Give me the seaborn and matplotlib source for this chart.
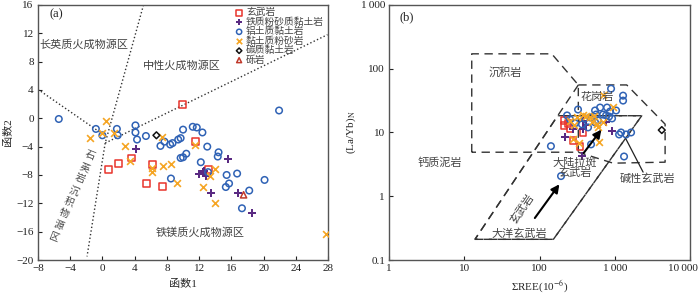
import numpy as np
import pandas as pd
import matplotlib
matplotlib.use("Agg")
import matplotlib.pyplot as plt
import matplotlib.transforms as mtransforms
import seaborn as sns

sns.set_style("ticks")
plt.rcParams["font.family"] = ["Liberation Serif", "Noto Sans CJK SC"]
plt.rcParams["mathtext.fontset"] = "stix"
plt.rcParams["axes.unicode_minus"] = True

# ---- panel (a): discriminant function diagram ----
basalt_a_x = [9.9, 11.5, 0.8, 2.0, 3.6, 6.2, 5.5, 7.5, 13.2]
basalt_a_y = [1.9, -3.3, -7.2, -6.4, -5.6, -6.5, -9.2, -9.6, -7.2]
fe_a_x = [4.2, 12.0, 12.6, 12.9, 12.5, 13.5, 15.6, 16.8, 18.5]
fe_a_y = [-4.3, -7.8, -7.4, -8.1, -7.6, -10.6, -5.7, -10.6, -13.4]
al_a_x = [-5.4, -0.8, 0.0, 1.8, 1.9, 4.1, 4.1, 4.3, 5.4, 7.7, 7.2, 8.4, 8.7, 9.4,
          9.7, 10.0, 11.2, 11.7, 12.4, 13.0, 21.9, 9.7, 10.0, 10.4, 12.2, 8.5,
          14.4, 14.3, 15.4, 15.7, 15.3, 16.7, 18.2, 17.3, 20.1, 13.1]
al_a_y = [-0.1, -1.5, -2.4, -1.5, -2.4, -1.0, -2.0, -3.0, -2.5, -3.3, -3.9, -3.7,
          -3.5, -3.0, -2.8, -1.6, -1.2, -1.3, -2.0, -4.0, 1.1, -5.6, -5.5, -5.0,
          -6.2, -8.5, -4.8, -5.4, -8.0, -9.2, -9.7, -7.8, -10.2, -12.7, -8.7, -7.6]
silt_a_x = [0.5, -0.1, -1.5, 1.5, 2.8, 7.4, 11.5, 3.45, 6.1, 6.1, 7.5, 8.5, 9.2,
            13.3, 12.5, 14.0, 14.0, 27.7]
silt_a_y = [-0.4, -2.1, -2.8, -2.1, -3.9, -2.7, -3.8, -6.0, -7.0, -7.6, -6.7,
            -6.4, -9.2, -8.2, -9.75, -7.1, -11.9, -16.4]
carb_a_x = [6.7]
carb_a_y = [-2.4]
congl_a_x = [17.5]
congl_a_y = [-10.8]

# field boundaries (a)
line_felsic_x = [-8, 0.5]
line_felsic_y = [4.1, -2.6]
line_steep_x = [5.1, 0.35]
line_steep_y = [16, -3.5]
line_right_x = [0.35, 27.9]
line_right_y = [-3.5, 11.8]
line_bottom_x = [0.35, -1.9]
line_bottom_y = [-3.5, -19.5]

# ---- panel (b): (La/Yb)N vs REE ----
basalt_b_x = [210, 210, 238, 377, 277, 344, 253]
basalt_b_y = [15.4, 12.9, 13.9, 10.0, 7.5, 6.1, 11.6]
fe_b_x = [277, 377, 413, 377, 217, 762, 915, 365]
fe_b_y = [11.2, 14.9, 12.9, 11.2, 8.4, 14.4, 10.4, 4.2]
al_b_x = [888, 1282, 1282, 323, 231, 544, 634, 785, 861, 1035, 400, 467, 561, 695,
          762, 835, 915, 253, 596, 544, 1205, 1406, 1638, 1135, 141, 481, 192,
          1321, 365, 439, 295]
al_b_y = [48.6, 37.8, 31.6, 22.9, 18.5, 22.1, 24.6, 24.6, 21.3, 22.1, 16.6, 17.2,
          19.1, 19.1, 18.5, 17.8, 16.6, 16.0, 15.4, 14.4, 10.0, 9.3, 10.0, 9.3,
          6.1, 6.5, 2.07, 4.2, 13.4, 12.0, 13.9]
silt_b_x = [695, 944, 253, 313, 377, 467, 578, 695, 615, 286, 277, 496, 596, 333,
            413, 527]
silt_b_y = [39.2, 25.5, 15.4, 17.2, 18.5, 17.2, 13.4, 14.4, 7.0, 12.9, 7.8, 14.4,
            12.0, 6.8, 17.8, 17.8]
carb_b_x = [4190]
carb_b_y = [10.9]

sed_x = [12.5, 12.5, 144.5, 326, 326, 12.5]
sed_y = [4.9, 171, 171, 55.6, 4.9, 4.9]
granite_x = [326, 1435, 4640, 4640, 944, 326]
granite_y = [55.6, 55.6, 13.5, 3.42, 3.3, 4.9]
band_x = [326, 13.8, 152, 2270, 173.5]
band_y = [55.6, 0.211, 0.211, 18.3, 18.3]
alk_ptr_x = [1362, 2366]
alk_ptr_y = [8.4, 2.39]

groups = ["玄武岩", "铁质粉砂质黏土岩", "铝土质黏土岩", "黏土质粉砂岩", "碳质黏土岩", "砾岩"]
colors = ["#e8342c", "#5a2a82", "#2f62b5", "#f5a524", "#111111", "#c0392b"]
markers = ["s", "P", "o", "x", "D", "^"]
filled = [False, True, False, True, False, False]
sizes = [24, 30, 22, 24, 12, 20]

df_a = pd.concat([
    pd.DataFrame({"x": xs, "y": ys, "g": g}) for g, xs, ys in zip(
        groups,
        [basalt_a_x, fe_a_x, al_a_x, silt_a_x, carb_a_x, congl_a_x],
        [basalt_a_y, fe_a_y, al_a_y, silt_a_y, carb_a_y, congl_a_y])
])
df_b = pd.concat([
    pd.DataFrame({"x": xs, "y": ys, "g": g}) for g, xs, ys in zip(
        groups[:5],
        [basalt_b_x, fe_b_x, al_b_x, silt_b_x, carb_b_x],
        [basalt_b_y, fe_b_y, al_b_y, silt_b_y, carb_b_y])
])


def draw_points(ax, df):
    for g, c, m, f, s in zip(groups, colors, markers, filled, sizes):
        sub = df[df["g"] == g]
        if sub.empty:
            continue
        if f:
            sns.scatterplot(data=sub, x="x", y="y", ax=ax, marker=m, s=s,
                            color=c, linewidth=1.2 if m == "x" else 0,
                            label=g, zorder=3)
        else:
            sns.scatterplot(data=sub, x="x", y="y", ax=ax, marker=m, s=s,
                            facecolor="none", edgecolor=c, linewidth=1.1,
                            label=g, zorder=3)


fig = plt.figure(figsize=(7, 2.98), dpi=100)
ax1 = fig.add_axes([0.054, 0.1275, 0.415, 0.856])
ax2 = fig.add_axes([0.556, 0.1275, 0.430, 0.856])

txt = "#444444"

# panel a
for lx, ly in [(line_felsic_x, line_felsic_y), (line_steep_x, line_steep_y),
               (line_right_x, line_right_y), (line_bottom_x, line_bottom_y)]:
    ax1.plot(lx, ly, ls=":", color="#333333", lw=1.0, zorder=1)
draw_points(ax1, df_a)
ax1.set_xlim(-8, 28)
ax1.set_ylim(-20, 16)
ax1.set_xticks(range(-8, 29, 4))
ax1.set_yticks(range(-20, 17, 4))
ax1.set_xlabel("函数1", fontsize=8, labelpad=4)
ax1.set_ylabel("函数2", fontsize=8, labelpad=2)
ax1.text(-6.6, 14.3, "(a)", fontsize=9, color="#222222")
ax1.text(-2.3, 10.35, "长英质火成物源区", fontsize=8, color=txt, ha="center", va="center")
ax1.text(9.9, 7.4, "中性火成物源区", fontsize=8, color=txt, ha="center", va="center")
ax1.text(12.1, -16.1, "铁镁质火成物源区", fontsize=8, color=txt, ha="center", va="center")
# slanted column of upright characters
quartz_label = "石英岩沉积物源区"
qx = np.linspace(-1.6, -6.0, len(quartz_label))
qy = np.linspace(-5.3, -16.8, len(quartz_label))
for ch, cx, cy in zip(quartz_label, qx, qy):
    ax1.text(cx, cy, ch, fontsize=7.2, color=txt, ha="center", va="center", rotation=-22)
leg = ax1.legend(loc="upper right", bbox_to_anchor=(1.005, 1.01), frameon=False,
                 fontsize=7, handletextpad=0.1, labelspacing=0.0,
                 borderpad=0.1, markerscale=0.8, handlelength=1.2)
for t in leg.get_texts():
    t.set_color(txt)

# panel b
for px, py in [(sed_x, sed_y), (granite_x, granite_y), (band_x, band_y)]:
    ax2.plot(px, py, ls=(0, (6, 4)), color="#333333", lw=1.0, zorder=1)
ax2.plot(band_x[1:4] + [band_x[4], band_x[1]], band_y[1:4] + [band_y[4], band_y[1]],
         ls=(0, (6, 4)), color="#333333", lw=1.0, zorder=1)
ax2.plot(alk_ptr_x, alk_ptr_y, color="#222222", lw=0.9, zorder=2)
draw_points(ax2, df_b)
ax2.annotate("", xy=(192, 1.67), xytext=(82, 0.42),
             arrowprops=dict(arrowstyle="-|>", color="black", lw=1.5,
                             mutation_scale=12), zorder=4)
ax2.annotate("", xy=(695, 12.0), xytext=(365, 4.4),
             arrowprops=dict(arrowstyle="-|>", color="black", lw=1.5,
                             mutation_scale=12), zorder=4)
ax2.set_xscale("log")
ax2.set_yscale("log")
ax2.set_xlim(1, 10000)
ax2.set_ylim(0.1, 1000)
ax2.set_xticks([1, 10, 100, 1000, 10000], ["1", "10", "100", "1\u2009000", "10\u2009000"])
ax2.set_yticks([0.1, 1, 10, 100, 1000], ["0.1", "1", "10", "100", "1\u2009000"])
ax2.minorticks_off()
ax2.set_xlabel(r"ΣREE(10$^{-6}$)", fontsize=8, labelpad=4)
ax2.set_ylabel(r"(La/Yb)$_\mathrm{N}$", fontsize=8, labelpad=2)
ax2.text(1.35, 580, "(b)", fontsize=9, color="#222222")
ax2.text(34.6, 86, "沉积岩", fontsize=8, color=txt, ha="center", va="center")
ax2.text(580, 36, "花岗岩", fontsize=8, color=txt, ha="center", va="center")
ax2.text(4.7, 3.4, "钙质泥岩", fontsize=8, color=txt, ha="center", va="center")
ax2.text(290, 2.75, "大陆拉斑\n玄武岩", fontsize=8, color=txt, ha="center",
         va="center", linespacing=0.95)
ax2.text(2750, 1.86, "碱性玄武岩", fontsize=8, color=txt, ha="center", va="center")
ax2.text(58, 0.64, "玄武岩", fontsize=8, color=txt, ha="center", va="center", rotation=56)
ax2.text(54, 0.26, "大洋玄武岩", fontsize=8, color=txt, ha="center", va="center")
if ax2.get_legend():
    ax2.get_legend().remove()

for ax in (ax1, ax2):
    ax.tick_params(direction="in", length=3, width=0.8, labelsize=8, pad=3,
                   colors="#222222")
    for sp in ax.spines.values():
        sp.set_color("#555555")
        sp.set_linewidth(1.0)
        sp.set_visible(True)

# keep the last x tick label of (b) inside the figure, as in the reference
last = ax2.get_xticklabels()[-1]
last.set_transform(last.get_transform() +
                   mtransforms.ScaledTranslation(-7 / 100, 0, fig.dpi_scale_trans))

fig.savefig("out.png", dpi=100)
